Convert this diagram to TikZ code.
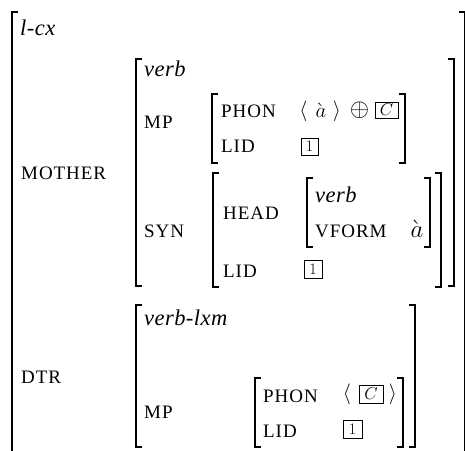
\documentclass[tikz,border=0pt]{standalone}
\usepackage{fontspec}
\newfontfamily\featfont[LetterSpace=5]{Liberation Serif}
\newfontfamily\typefont[LetterSpace=2]{Liberation Serif}
\newcommand\LBk[3]{\draw[brk] ({#1+6},#2) -- (#1,#2) -- (#1,#3) -- ({#1+6},#3);}
\newcommand\RBk[3]{\draw[brk] ({#1-6},#2) -- (#1,#2) -- (#1,#3) -- ({#1-6},#3);}
\tikzset{
  feat/.style={anchor=base west, inner sep=0pt, font=\featfont\fontsize{19}{19}\selectfont},
  typ/.style={anchor=base west, inner sep=0pt, font=\typefont\itshape\fontsize{22.5}{22.5}\selectfont},
  brk/.style={line width=1.6pt, line join=miter},
  tagbox/.style={draw, line width=0.8pt, inner sep=0pt, font=\fontsize{16}{16}\selectfont},
  sym/.style={inner sep=0pt, anchor=center},
}
\begin{document}
\begin{tikzpicture}[x=1pt,y=-1pt]
\useasboundingbox (0,0) rectangle (465,450);
% brackets
\LBk{12}{12}{470}
\RBk{465}{12}{470}
\LBk{136}{59}{286}
\RBk{454}{59}{286}
\LBk{212}{94}{163}
\RBk{405}{94}{163}
\LBk{213}{173}{287}
\RBk{441}{173}{287}
\LBk{307}{178}{247}
\RBk{430}{178}{247}
\LBk{136}{305}{447}
\RBk{415}{305}{447}
\LBk{255}{378}{447}
\RBk{403}{378}{447}
% top level
\node[typ] (lcx) at (20,35) {l-cx};
\node[feat] (mother) at (21,179) {MOTHER};
\node[feat] (dtr) at (21,383) {DTR};
% mother
\node[typ] (verbA) at (144,76) {verb};
\node[feat] (mpA) at (144,128) {MP};
\node[feat] (syn) at (144,237) {SYN};
\node[feat] (phonA) at (221,117) {PHON};
\node[feat] (lidA) at (221,152) {LID};
\node[sym, font=\fontsize{22}{22}\selectfont] (laA) at (303.5,111) {$\langle$};
\node[anchor=base, inner sep=0pt, font=\fontsize{22}{22}\selectfont] (aA) at (321,117) {$\grave{a}$};
\node[sym, font=\fontsize{22}{22}\selectfont] (raA) at (337,111) {$\rangle$};
\node[sym, font=\fontsize{25}{25}\selectfont] (opl) at (359.5,110) {$\oplus$};
\node[tagbox, minimum width=23pt, minimum height=16pt, font=\fontsize{19}{19}\selectfont] (cA) at (386.5,110) {$C$};
\node[tagbox, minimum width=17pt, minimum height=17pt] (oneA) at (309.5,146.5) {1};
\node[feat] (head) at (223,219) {HEAD};
\node[feat] (lidB) at (223,277) {LID};
\node[typ] (verbB) at (315,202) {verb};
\node[feat] (vform) at (315,237) {VFORM};
\node[anchor=base, inner sep=0pt, font=\fontsize{23}{23}\selectfont] (aB) at (417,237) {$\grave{a}$};
\node[tagbox, minimum width=18pt, minimum height=18pt] (oneB) at (313,269) {1};
% dtr
\node[typ] (vlxm) at (144,325) {verb-lxm};
\node[feat] (mpB) at (144,418) {MP};
\node[feat] (phonB) at (263,402) {PHON};
\node[feat] (lidC) at (263,437) {LID};
\node[sym, font=\fontsize{22}{22}\selectfont] (laB) at (347,394) {$\langle$};
\node[tagbox, minimum width=24pt, minimum height=18pt, font=\fontsize{19}{19}\selectfont] (cB) at (371,394) {$C$};
\node[sym, font=\fontsize{22}{22}\selectfont] (raB) at (393,394) {$\rangle$};
\node[tagbox, minimum width=19pt, minimum height=18pt] (oneC) at (352.5,429) {1};
\end{tikzpicture}
\end{document}
